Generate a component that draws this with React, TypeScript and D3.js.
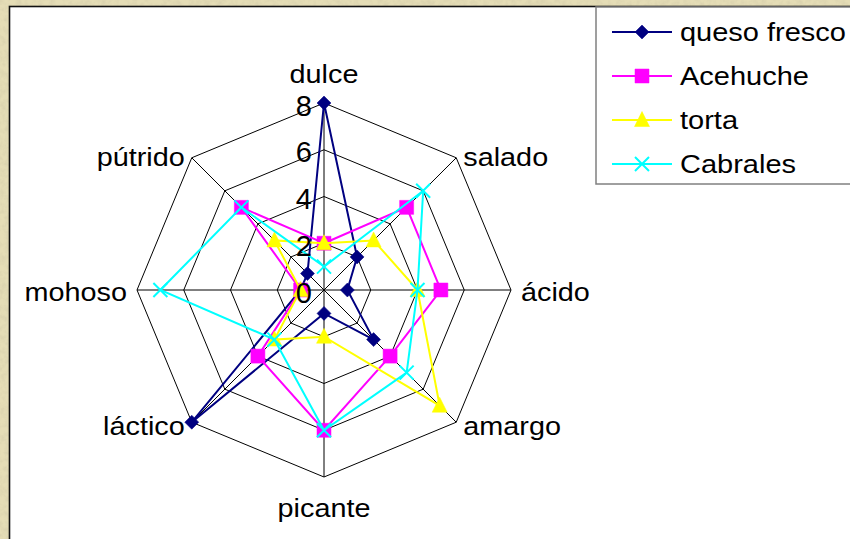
import * as d3 from 'd3'

// Spider chart of cheese sensory profiles (0–8 scale)
const axes = ['dulce', 'salado', 'ácido', 'amargo', 'picante', 'láctico', 'mohoso', 'pútrido']
const seriesNames = ['queso fresco', 'Acehuche', 'torta', 'Cabrales']
const quesoFresco = [8, 2, 1, 3, 1, 8, 1, 1]
const acehuche = [2, 5, 5, 4, 6, 4, 1, 5]
const torta = [2, 3, 4, 7, 2, 3, 1, 3]
const cabrales = [1, 6, 4, 5, 6, 3, 7, 5]
const ticks = [0, 2, 4, 6, 8]

const seriesValues = [quesoFresco, acehuche, torta, cabrales]
const colors = ['#000080', '#ff00ff', '#ffff00', '#00ffff']
const markers = ['diamond', 'square', 'triangle', 'x']

const W = 850
const H = 539
const CX = 324
const CY = 290
const R = 187
const FONT = '"Liberation Sans", Arial, sans-serif'

function markerPath(kind: string) {
  const p = d3.path()
  if (kind === 'diamond') {
    p.moveTo(0, -7); p.lineTo(7, 0); p.lineTo(0, 7); p.lineTo(-7, 0); p.closePath()
  } else if (kind === 'square') {
    p.rect(-7, -7, 14, 14)
  } else if (kind === 'triangle') {
    p.moveTo(0, -8.5); p.lineTo(7.5, 6.5); p.lineTo(-7.5, 6.5); p.closePath()
  } else {
    p.moveTo(-7, -7); p.lineTo(7, 7); p.moveTo(7, -7); p.lineTo(-7, 7)
  }
  return p.toString()
}

function Marker({ kind, color, x, y }: { kind: string; color: string; x: number; y: number }) {
  const isX = kind === 'x'
  return (
    <path
      d={markerPath(kind)}
      transform={`translate(${x},${y})`}
      fill={isX ? 'none' : color}
      stroke={color}
      strokeWidth={isX ? 2 : 0.5}
    />
  )
}

export default function App() {
  const r = d3.scaleLinear().domain([0, 8]).range([0, R])
  const angle = d3.scaleLinear().domain([0, axes.length]).range([0, 2 * Math.PI])
  const idx = d3.range(axes.length)

  const radial = d3.lineRadial<number>()
    .angle((_, i) => angle(i))
    .curve(d3.curveLinearClosed)

  const pt = (i: number, v: number) => [
    CX + r(v) * Math.sin(angle(i)),
    CY - r(v) * Math.cos(angle(i)),
  ]

  const rings = ticks.filter(t => t > 0)

  return (
    <svg width={W} height={H} style={{ position: 'absolute', left: 0, top: 0, display: 'block' }}>
      <defs>
        <filter id="paper" x="0" y="0" width="100%" height="100%">
          <feTurbulence type="fractalNoise" baseFrequency="0.18" numOctaves="3" seed="4" />
          <feColorMatrix type="matrix" values="0 0 0 0 0.62  0 0 0 0 0.57  0 0 0 0 0.38  1.6 0 0 0 -0.6" />
        </filter>
      </defs>

      {/* parchment background */}
      <rect x={0} y={0} width={W} height={H} fill="#e5ddb6" />
      <rect x={0} y={0} width={W} height={H} filter="url(#paper)" opacity={0.6} />

      {/* plot area */}
      <rect x={9.5} y={6.5} width={W} height={H} fill="#ffffff" stroke="#111" strokeWidth={1.6} />

      <g transform={`translate(${CX},${CY})`}>
        {rings.map(t => (
          <path key={t} d={radial.radius(() => r(t))(idx) ?? ''} fill="none" stroke="#000" strokeWidth={1} />
        ))}
        {idx.map(i => (
          <line key={i} x1={0} y1={0}
            x2={r(8) * Math.sin(angle(i))} y2={-r(8) * Math.cos(angle(i))}
            stroke="#000" strokeWidth={1} />
        ))}
      </g>

      {/* series */}
      {seriesValues.map((vals, s) => (
        <g key={seriesNames[s]}>
          <path
            transform={`translate(${CX},${CY})`}
            d={radial.radius(d => r(d))(vals) ?? ''}
            fill="none"
            stroke={colors[s]}
            strokeWidth={2}
          />
          {vals.map((v, i) => {
            const [x, y] = pt(i, v)
            return <Marker key={i} kind={markers[s]} color={colors[s]} x={x} y={y} />
          })}
        </g>
      ))}

      {/* category labels */}
      {axes.map((name, i) => {
        const a = angle(i)
        const s = Math.sin(a)
        const c = Math.cos(a)
        const gap = 10
        const px = CX + (R + gap) * s
        const py = CY - (R + gap) * c
        let anchor = 'middle'
        let by = py + 10.5 + 7 * c
        if (s > 0.1) anchor = 'start'
        else if (s < -0.1) anchor = 'end'
        else by = c > 0 ? py - 10 : py + 30
        return (
          <text key={name} transform={`translate(${px},${by}) scale(1.13,1)`}
            textAnchor={anchor} fontFamily={FONT} fontSize={25.5} fill="#000">
            {name}
          </text>
        )
      })}

      {/* tick labels */}
      {ticks.map(t => (
        <text key={t} x={CX - 12} y={CY - r(t) + 12.5} textAnchor="end"
          fontFamily={FONT} fontSize={29} fill="#000">
          {t}
        </text>
      ))}

      {/* legend */}
      <rect x={596} y={7} width={270} height={177} fill="#fff" stroke="#808080" strokeWidth={1.5} />
      {seriesNames.map((name, s) => {
        const y = 32 + s * 44
        return (
          <g key={name}>
            <line x1={612} x2={672} y1={y} y2={y} stroke={colors[s]} strokeWidth={2} />
            <Marker kind={markers[s]} color={colors[s]} x={642} y={y} />
            <text transform={`translate(680,${y + 9}) scale(1.16,1)`}
              fontFamily={FONT} fontSize={25} fill="#000">
              {name}
            </text>
          </g>
        )
      })}
    </svg>
  )
}
